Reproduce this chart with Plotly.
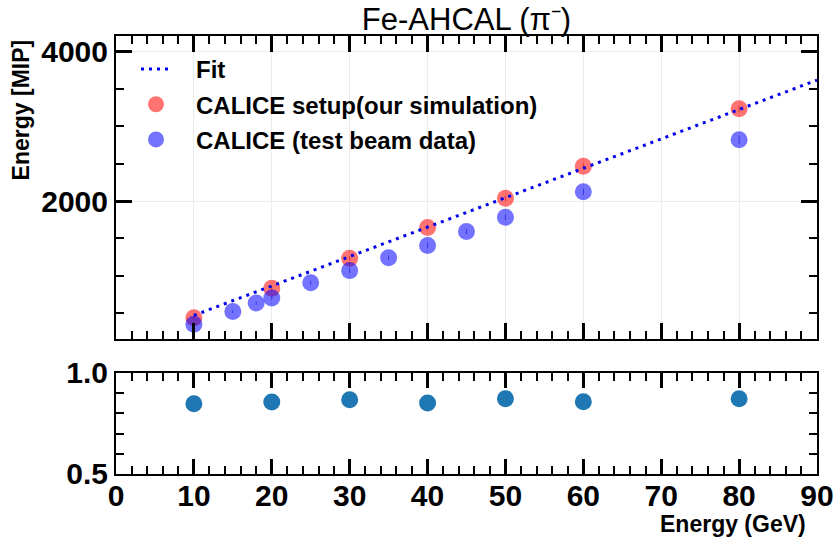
import plotly.graph_objects as go

# ---- data ----
energy_sim = [10, 20, 30, 40, 50, 60, 80]
mip_sim = [436, 832, 1232, 1645, 2036, 2467, 3236]
err_sim = [25, 28, 30, 32, 35, 38, 45]

energy_data = [10, 15, 18, 20, 25, 30, 35, 40, 45, 50, 60, 80]
mip_data = [347, 520, 632, 699, 903, 1067, 1240, 1405, 1592, 1783, 2125, 2822]
err_data = [20, 22, 24, 25, 28, 30, 32, 34, 36, 38, 42, 50]

fit_energy = [10, 90]
fit_mip = [467, 3622]

ratio_energy = [10, 20, 30, 40, 50, 60, 80]
ratio_vals = [0.848, 0.857, 0.868, 0.851, 0.873, 0.858, 0.872]

FONT = "Liberation Sans, Arial, Helvetica, sans-serif"
PAD = "\u00a0\u00a0\u00a0"

fig = go.Figure()

fig.add_trace(go.Scatter(
    x=energy_sim, y=mip_sim, mode="markers", name=PAD + "CALICE setup(our simulation)",
    marker=dict(size=17, color="rgba(255,0,0,0.55)", line=dict(width=0)),
    error_y=dict(type="data", array=err_sim, visible=True, thickness=1, width=0,
                 color="rgba(120,0,0,0.5)"),
    legendrank=2, legendgroup="g2", xaxis="x", yaxis="y"))

fig.add_trace(go.Scatter(
    x=energy_data, y=mip_data, mode="markers", name=PAD + "CALICE (test beam data)",
    marker=dict(size=17, color="rgba(0,0,255,0.55)", line=dict(width=0)),
    error_y=dict(type="data", array=err_data, visible=True, thickness=1, width=0,
                 color="rgba(0,0,140,0.5)"),
    legendrank=3, legendgroup="g3", xaxis="x", yaxis="y"))

fig.add_trace(go.Scatter(
    x=fit_energy, y=fit_mip, mode="lines", name=PAD + "Fit",
    line=dict(color="#0000ee", width=3, dash="3px,5px"),
    legendrank=1, legendgroup="g1", xaxis="x", yaxis="y"))

fig.add_trace(go.Scatter(
    x=ratio_energy, y=ratio_vals, mode="markers", name="ratio", showlegend=False,
    marker=dict(size=17, color="#1f77b4", line=dict(width=0)),
    xaxis="x2", yaxis="y2"))

common_axis = dict(
    showline=True, linecolor="black", linewidth=2, mirror="allticks",
    ticks="inside", tickcolor="black", zeroline=False, automargin=False,
    tickfont=dict(family=FONT, size=30, color="black", weight="bold"),
)

fig.update_layout(
    width=836, height=540,
    margin=dict(l=116, r=19, t=36, b=66, autoexpand=False),
    paper_bgcolor="white", plot_bgcolor="white",
    font=dict(family=FONT, color="black"),
    showlegend=True,
    legend=dict(
        x=(136 - 116) / 701, y=0.975, xanchor="left", yanchor="top",
        bgcolor="rgba(0,0,0,0)", borderwidth=0,
        font=dict(family=FONT, size=24, color="black", weight="bold"),
        tracegroupgap=1, traceorder="grouped",
    ),
    title=dict(
        text="Fe-AHCAL (π\u207b)", x=0.5, xref="paper", xanchor="center",
        y=1 - 19 / 540, yref="container", yanchor="middle",
        font=dict(family=FONT, size=31, color="black"),
    ),
    xaxis=dict(
        common_axis, domain=[0, 1], anchor="y", range=[0, 90],
        dtick=10, tick0=0, ticklen=16, tickwidth=3, showticklabels=False,
        showgrid=True, gridcolor="#ececec", gridwidth=1,
        minor=dict(ticks="inside", dtick=2, tick0=0, ticklen=8, tickwidth=1.5,
                   tickcolor="black", showgrid=False),
    ),
    yaxis=dict(
        common_axis, domain=[0.3082, 1], anchor="x", range=[150, 4213],
        dtick=2000, tick0=0, ticklen=16, tickwidth=3,
        showgrid=True, gridcolor="#ececec", gridwidth=1,
        minor=dict(ticks="inside", dtick=500, tick0=0, ticklen=8, tickwidth=1.5,
                   tickcolor="black", showgrid=False),
    ),
    xaxis2=dict(
        common_axis, domain=[0, 1], anchor="y2", range=[0, 90],
        dtick=10, tick0=0, ticklen=15, tickwidth=3, ticklabelstandoff=-6,
        showgrid=False,
        minor=dict(ticks="inside", dtick=2, tick0=0, ticklen=8, tickwidth=1.5,
                   tickcolor="black", showgrid=False),
    ),
    yaxis2=dict(
        common_axis, domain=[0, 0.2306], anchor="x2", range=[0.5, 1.0],
        dtick=0.5, tick0=0.5, tickformat=".1f", ticklen=14, tickwidth=3,
        showgrid=False,
        minor=dict(ticks="inside", dtick=0.1, tick0=0.5, ticklen=8, tickwidth=1.5,
                   tickcolor="black", showgrid=False),
    ),
)

fig.add_annotation(
    text="<b>Energy [MIP]</b>", textangle=-90,
    xref="paper", yref="paper", x=-0.135, y=0.831,
    xanchor="center", yanchor="middle", showarrow=False,
    font=dict(family=FONT, size=23, color="black"))

fig.add_annotation(
    text="<b>Energy (GeV)</b>",
    xref="paper", yref="paper", x=(808 - 116) / 701, y=(474 - 524) / 438,
    xanchor="right", yanchor="middle", showarrow=False,
    font=dict(family=FONT, size=23, color="black"))

fig.write_html("out.html")
